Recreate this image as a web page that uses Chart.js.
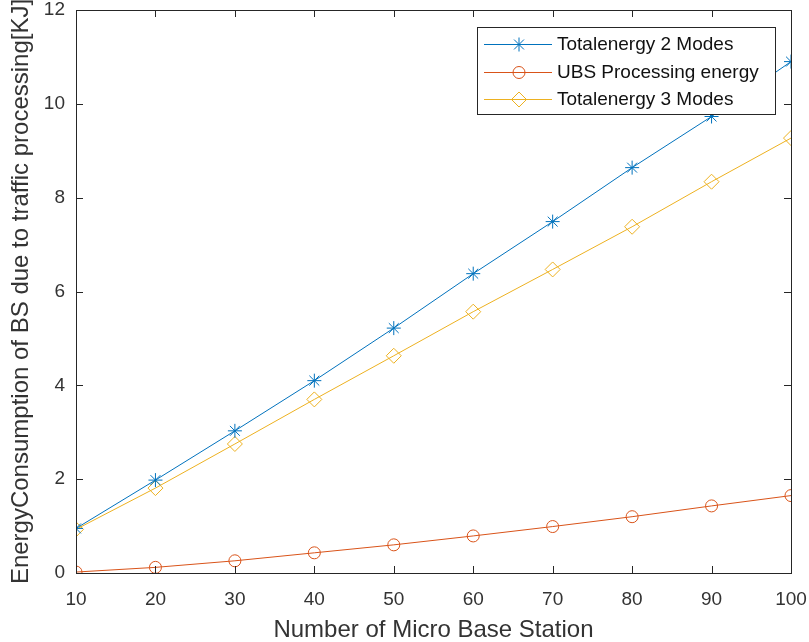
<!DOCTYPE html>
<html>
<head>
<meta charset="utf-8">
<script src="https://cdn.jsdelivr.net/npm/chart.js@4/dist/chart.umd.min.js"></script>
<style>
  html, body { margin: 0; padding: 0; background: #fff; }
  #wrap { width: 809px; height: 642px; }
</style>
</head>
<body>
<div id="wrap"><canvas id="energyChart" width="809" height="642"></canvas></div>
<script>
const stations = [10, 20, 30, 40, 50, 60, 70, 80, 90, 100];
const total2Modes = [0.95, 1.98, 3.03, 4.10, 5.22, 6.38, 7.49, 8.64, 9.73, 10.9];
const ubsProcessing = [0.02, 0.12, 0.26, 0.43, 0.60, 0.79, 0.99, 1.20, 1.43, 1.65];
const total3Modes = [0.93, 1.81, 2.75, 3.70, 4.63, 5.57, 6.47, 7.38, 8.34, 9.27];
const yTicks = [0, 2, 4, 6, 8, 10, 12];

const FONT = "'Liberation Sans', Arial, sans-serif";
const TEXT = "#333";

function points(values) {
    return stations.map((s, i) => ({ x: s, y: values[i] }));
}

// matlab-like box with inward ticks
const boxPlugin = {
    id: "box",
    afterDraw(chart) {
        const { ctx, chartArea: a, scales } = chart;
        ctx.save();
        ctx.strokeStyle = "#262626";
        ctx.lineWidth = 1;
        ctx.strokeRect(a.left + 0.5, a.top + 0.5, a.right - a.left, a.bottom - a.top);
        ctx.beginPath();
        stations.forEach(s => {
            const px = Math.round(scales.x.getPixelForValue(s)) + 0.5;
            ctx.moveTo(px, a.bottom); ctx.lineTo(px, a.bottom - 7);
            ctx.moveTo(px, a.top); ctx.lineTo(px, a.top + 7);
        });
        yTicks.forEach(v => {
            const py = Math.round(scales.y.getPixelForValue(v)) + 0.5;
            ctx.moveTo(a.left, py); ctx.lineTo(a.left + 7, py);
            ctx.moveTo(a.right, py); ctx.lineTo(a.right - 7, py);
        });
        ctx.stroke();
        ctx.restore();
    }
};

// legend box inside the plot, top right
const legendPlugin = {
    id: "innerLegend",
    afterDraw(chart) {
        const ctx = chart.ctx;
        const x0 = 477, y0 = 27, w = 298, h = 87;
        ctx.save();
        ctx.fillStyle = "#fff";
        ctx.fillRect(x0, y0, w, h);
        ctx.strokeStyle = "#262626";
        ctx.lineWidth = 1;
        ctx.strokeRect(x0 + 0.5, y0 + 0.5, w, h);
        ctx.font = "19px " + FONT;
        ctx.textBaseline = "middle";
        chart.data.datasets.forEach((ds, i) => {
            const y = Math.round(y0 + 17 + i * 27.5);
            ctx.strokeStyle = ds.borderColor;
            ctx.lineWidth = 1;
            ctx.beginPath();
            ctx.moveTo(x0 + 7, y + 0.5);
            ctx.lineTo(x0 + 75, y + 0.5);
            ctx.stroke();
            ctx.fillStyle = "rgba(0,0,0,0)";
            Chart.helpers.drawPoint(ctx, {
                pointStyle: ds.pointStyle,
                radius: ds.pointRadius,
                borderWidth: 1
            }, x0 + 42, y + 0.5);
            ctx.fillStyle = "#111";
            ctx.fillText(ds.label, x0 + 80, y + 1);
        });
        ctx.restore();
    }
};

const ctx = document.getElementById("energyChart");

new Chart(ctx, {
    type: "line",
    data: {
        datasets: [{
            label: "Totalenergy 2 Modes",
            data: points(total2Modes),
            borderColor: "#0072BD",
            backgroundColor: "transparent",
            pointStyle: "star",
            pointRadius: 7
        }, {
            label: "UBS Processing energy",
            data: points(ubsProcessing),
            borderColor: "#D95319",
            backgroundColor: "transparent",
            pointStyle: "circle",
            pointRadius: 6
        }, {
            label: "Totalenergy 3 Modes",
            data: points(total3Modes),
            borderColor: "#EDB120",
            backgroundColor: "transparent",
            pointStyle: "rectRot",
            pointRadius: 7.5
        }]
    },
    options: {
        responsive: false,
        animation: false,
        layout: { padding: { top: 10, right: 18, left: 0, bottom: 0 } },
        elements: {
            line: { borderWidth: 1, tension: 0 },
            point: { borderWidth: 1 }
        },
        datasets: {
            line: {
                pointBorderColor: c => c.dataset.borderColor,
                pointBackgroundColor: "transparent"
            }
        },
        plugins: {
            legend: { display: false },
            tooltip: { enabled: false }
        },
        scales: {
            x: {
                type: "linear",
                min: 10,
                max: 100,
                afterBuildTicks: s => { s.ticks = stations.map(v => ({ value: v })); },
                afterFit: s => { s.height = 69; s.paddingLeft = 0; s.paddingRight = 0; },
                grid: { display: false },
                border: { display: false },
                ticks: { color: TEXT, font: { size: 19, family: FONT }, padding: 7 },
                title: {
                    display: true,
                    text: "Number of Micro Base Station",
                    color: TEXT,
                    font: { size: 24, family: FONT, lineHeight: 1 },
                    padding: { top: 0, bottom: 0 }
                }
            },
            y: {
                min: 0,
                max: 12,
                afterBuildTicks: s => { s.ticks = yTicks.map(v => ({ value: v })); },
                afterFit: s => { s.width = 76; s.paddingTop = 0; s.paddingBottom = 0; },
                grid: { display: false },
                border: { display: false },
                ticks: { color: TEXT, font: { size: 19, family: FONT }, padding: 3 },
                title: {
                    display: true,
                    text: "EnergyConsumption of BS due to traffic processing[KJ]",
                    color: TEXT,
                    font: { size: 24, family: FONT, lineHeight: 1 },
                    padding: { top: 9, bottom: 0 }
                }
            }
        }
    },
    plugins: [boxPlugin, legendPlugin]
});
</script>
</body>
</html>
